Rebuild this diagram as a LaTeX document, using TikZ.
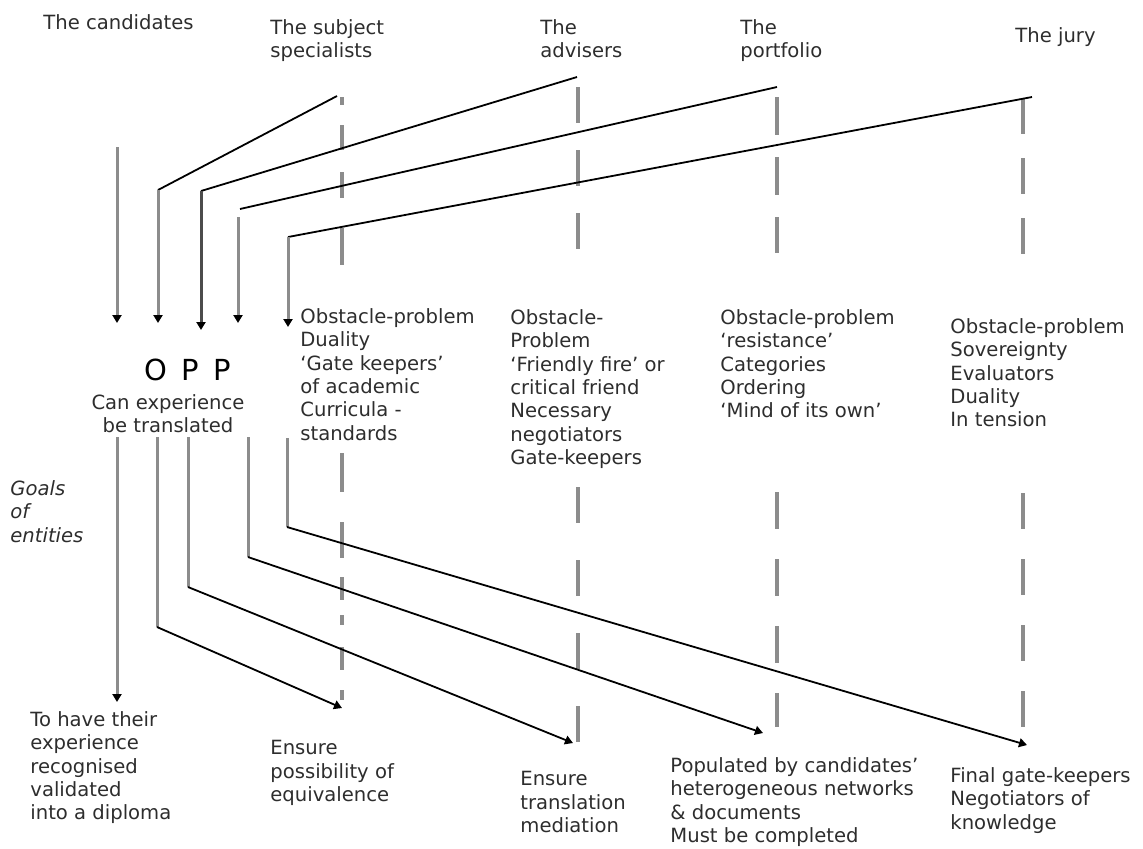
\documentclass[tikz,border=0pt]{standalone}
\usepackage{fontspec}
\setmainfont{DejaVu Sans}
\usetikzlibrary{arrows.meta}
\definecolor{txtcol}{RGB}{45,45,45}
\definecolor{colgray}{RGB}{140,140,140}
\tikzset{
  lbl/.style    ={anchor=north west, inner sep=0pt, align=left, text=txtcol,
                  font=\fontsize{9.8}{11.7}\selectfont},
  entdash/.style={draw=colgray, line width=1.6pt, dash pattern=on 18pt off 15pt},
  blkln/.style  ={draw=black, line width=0.9pt},
  grayln/.style ={draw=colgray, line width=1.5pt},
  arrtip/.style ={-{Triangle[length=4pt,width=4.5pt,color=black]}},
}

\begin{document}
\begin{tikzpicture}[x=0.5pt,y=-0.5pt,
  opplbl/.style={inner sep=0pt, text=black, font=\fontsize{14.5}{17}\selectfont},
  goallbl/.style={lbl, font=\fontsize{9.8}{11.7}\selectfont\itshape}
]
\useasboundingbox (0,0) rectangle (1143,848);

%% Entities
\node[lbl] (cand) at (43,14)   {The candidates};
\node[lbl] (spec) at (270,19)  {The subject\\specialists};
\node[lbl] (adv)  at (540,19)  {The\\advisers};
\node[lbl] (port) at (740,19)  {The\\portfolio};
\node[lbl] (jury) at (1015,27) {The jury};

%% OPP
\node[opplbl, anchor=base] (opp) at (187.5,380) {O\hspace{0.5em}P\hspace{0.5em}P};
\node[lbl, anchor=north, align=center] (trans) at (168,394)
  {Can experience\\be translated};

%% Obstacle-problems
\node[lbl] (specnote) at (300,308)
  {Obstacle-problem\\Duality\\‘Gate keepers’\\of academic\\Curricula -\\standards};
\node[lbl] (advnote)  at (510,309)
  {Obstacle-\\Problem\\‘Friendly fire’ or\\critical friend\\Necessary\\negotiators\\Gate-keepers};
\node[lbl] (portnote) at (720,309)
  {Obstacle-problem\\‘resistance’\\Categories\\Ordering\\‘Mind of its own’};
\node[lbl] (jurynote) at (950,318)
  {Obstacle-problem\\Sovereignty\\Evaluators\\Duality\\In tension};

\node[goallbl] (goals) at (10,480) {Goals\\of\\entities};

%% Goals
\node[lbl] (candgoal) at (30,711)
  {To have their\\experience\\recognised\\validated\\into a diploma};
\node[lbl] (specgoal) at (270,740) {Ensure\\possibility of\\equivalence};
\node[lbl] (advgoal)  at (520,771) {Ensure\\translation\\mediation};
\node[lbl] (portgoal) at (670,757)
  {Populated by candidates’\\heterogeneous networks\\\& documents\\Must be completed};
\node[lbl] (jurygoal) at (950,767)
  {Final gate-keepers\\Negotiators of\\knowledge};

%% Columns of the entities
\draw[entdash, dash pattern=on 4pt off 10pt on 12.5pt off 11pt on 13pt off 15pt on 18.5pt off 30pt]
  (342,97) -- (342,265);
\draw[entdash, dash pattern=on 19.5pt off 15pt on 18pt off 9.5pt on 11.5pt off 7.5pt on 5pt off 11pt on 11.5pt off 10pt on 5pt off 40pt]
  (342,453) -- (342,700);
\draw[entdash, dash pattern=on 18pt off 13.5pt] (578,87) -- (578,253);
\draw[entdash, dash pattern=on 18pt off 18.5pt] (578,487) -- (578,743);
\draw[entdash, dash pattern=on 19pt off 11pt] (777,97) -- (777,253);
\draw[entdash, dash pattern=on 18.5pt off 15pt] (777,492) -- (777,727);
\draw[entdash, dash pattern=on 18pt off 12pt] (1023,98) -- (1023,256);
\draw[entdash] (1023,493) -- (1023,727);

%% Points on the columns
\coordinate (specin)  at (337,96);
\coordinate (advin)   at (577,77);
\coordinate (portin)  at (777,87);
\coordinate (juryin)  at (1032,97);
\coordinate (specout) at (342,708);
\coordinate (advout)  at (573,743);
\coordinate (portout) at (763,733);
\coordinate (juryout) at (1027,745);

%% Bends above and below the OPP
\coordinate (candtop) at (117,147);
\coordinate (spectop) at (158,190);
\coordinate (advtop)  at (201,191);
\coordinate (porttop) at (240,209);
\coordinate (portfd)  at (238,217);
\coordinate (jurytop) at (288,237);
\coordinate (candbot) at (117,437);
\coordinate (specbot) at (157,437);
\coordinate (advbot)  at (188,437);
\coordinate (portbot) at (248,437);
\coordinate (jurybot) at (287,438);
\coordinate (specbd)  at (157,627);
\coordinate (advbd)   at (188,587);
\coordinate (portbd)  at (248,557);
\coordinate (jurybd)  at (287,527);

%% Into the OPP
\draw[grayln, arrtip] (candtop) -- (117,323);
\draw[blkln] (specin) -- (spectop);
\draw[grayln, arrtip] (spectop) -- (158,323);
\draw[blkln] (advin) -- (advtop);
\draw[grayln, draw=black!70, arrtip] (advtop) -- (201,330);
\draw[blkln] (portin) -- (porttop);
\draw[grayln, arrtip] (portfd) -- (238,323);
\draw[blkln] (juryin) -- (jurytop);
\draw[grayln, arrtip] (jurytop) -- (288,327);

%% Out of the OPP
\draw[grayln, arrtip] (candbot) -- (117,702);
\draw[grayln] (specbot) -- (specbd);
\draw[blkln, arrtip] (specbd) -- (specout);
\draw[grayln] (advbot) -- (advbd);
\draw[blkln, arrtip] (advbd) -- (advout);
\draw[grayln] (portbot) -- (portbd);
\draw[blkln, arrtip] (portbd) -- (portout);
\draw[grayln] (jurybot) -- (jurybd);
\draw[blkln, arrtip] (jurybd) -- (juryout);

\end{tikzpicture}
\end{document}
